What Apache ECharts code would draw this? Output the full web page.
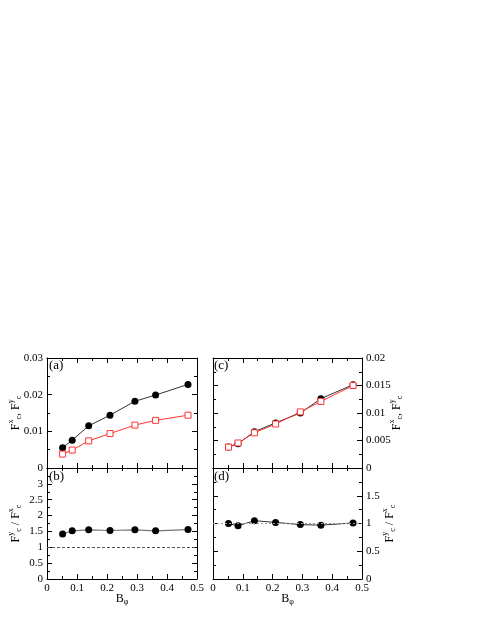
<!DOCTYPE html>
<html>
<head>
<meta charset="utf-8">
<script src="https://cdn.jsdelivr.net/npm/echarts@6/dist/echarts.min.js"></script>
<style>
html,body{margin:0;padding:0;background:#fff;}
#chart{width:485px;height:627px;}
</style>
</head>
<body>
<div id="chart"></div>
<script>
// Data
var B = [0.052, 0.084, 0.139, 0.21, 0.293, 0.362, 0.47];
var aFy = [0.0055, 0.0076, 0.0115, 0.0144, 0.0182, 0.0199, 0.0228];
var aFx = [0.0038, 0.0049, 0.0074, 0.0094, 0.0117, 0.0130, 0.0144];
var bRatio = [1.42, 1.52, 1.55, 1.53, 1.55, 1.52, 1.56];
var cFy = [0.0038, 0.0044, 0.0066, 0.0082, 0.0100, 0.0126, 0.01515];
var cFx = [0.0038, 0.00455, 0.0064, 0.0080, 0.0102, 0.0121, 0.0150];
var dRatio = [1.00, 0.96, 1.05, 1.02, 0.98, 0.97, 1.01];
var panelLabels = ['(a)', '(b)', '(c)', '(d)'];

var FONT = '"Liberation Serif", "Times New Roman", serif';
function pairs(xs, ys) { return xs.map(function (x, i) { return [x, ys[i]]; }); }

var richName = {
  n: { fontFamily: FONT, fontSize: 12, color: '#000' },
  sup: { fontFamily: FONT, fontSize: 8, color: '#000', padding: [0, 0, 9, 0] },
  sub: { fontFamily: FONT, fontSize: 8, color: '#000', padding: [7, 0, 0, 0] }
};

var grids = [
  { left: 47, top: 358, width: 150, height: 110 },
  { left: 47, top: 468, width: 150, height: 111 },
  { left: 213, top: 358, width: 149, height: 110 },
  { left: 213, top: 468, width: 149, height: 111 }
];

function xAx(grid, pos, showLabel, name) {
  return {
    type: 'value', gridIndex: grid, position: pos, min: 0, max: 0.5, interval: 0.1,
    axisLine: { show: true, onZero: false, lineStyle: { color: '#000', width: 1 } },
    axisTick: { show: true, inside: true, length: 5, lineStyle: { color: '#000' } },
    minorTick: { show: true, splitNumber: 2, length: 3, lineStyle: { color: '#000' } },
    splitLine: { show: false },
    axisLabel: { show: showLabel, fontFamily: FONT, fontSize: 11, color: '#000', margin: 4 },
    name: name || '', nameLocation: 'middle', nameGap: 12, nameMoveOverlap: false,
    nameTextStyle: { rich: richName }
  };
}
function yAx(grid, pos, showLabel, max, interval, name, gap, hideMax) {
  return {
    type: 'value', gridIndex: grid, position: pos, min: 0, max: max, interval: interval,
    axisLine: { show: true, onZero: false, lineStyle: { color: '#000', width: 1 } },
    axisTick: { show: true, inside: true, length: 5, lineStyle: { color: '#000' } },
    minorTick: { show: true, splitNumber: 2, length: 3, lineStyle: { color: '#000' } },
    splitLine: { show: false },
    axisLabel: { show: showLabel, fontFamily: FONT, fontSize: 11, color: '#000', margin: 4,
      showMaxLabel: !hideMax },
    name: name || '', nameLocation: 'middle', nameGap: gap || 15, nameRotate: 90,
    nameMoveOverlap: false,
    nameTextStyle: { rich: richName }
  };
}

var nameF = '{n|F}{sup|x}{sub|c}{n|, F}{sup|y}{sub|c}';
var nameR = '{n|F}{sup|y}{sub|c}{n| / F}{sup|x}{sub|c}';
var nameB = '{n|B}{sub|\u03c6}';

var xAxes = [
  xAx(0, 'bottom', false), xAx(0, 'top', false),
  xAx(1, 'bottom', true, nameB), xAx(1, 'top', false),
  xAx(2, 'bottom', false), xAx(2, 'top', false),
  xAx(3, 'bottom', true, nameB), xAx(3, 'top', false)
];
var yAxes = [
  yAx(0, 'left', true, 0.03, 0.01, nameF, 23, false), yAx(0, 'right', false, 0.03, 0.01),
  yAx(1, 'left', true, 3.5, 0.5, nameR, 23, true), yAx(1, 'right', false, 3.5, 0.5),
  yAx(2, 'right', true, 0.02, 0.005, nameF, 26, false), yAx(2, 'left', false, 0.02, 0.005),
  yAx(3, 'right', true, 2, 0.5, nameR, 19, true), yAx(3, 'left', false, 2, 0.5)
];

function circleSeries(xi, yi, ys) {
  return {
    type: 'line', xAxisIndex: xi, yAxisIndex: yi, data: pairs(B, ys),
    symbol: 'circle', symbolSize: 7, showSymbol: true,
    lineStyle: { color: '#333', width: 1 },
    itemStyle: { color: '#000' }, z: 3, animation: false
  };
}
function squareSeries(xi, yi, ys) {
  return {
    type: 'line', xAxisIndex: xi, yAxisIndex: yi, data: pairs(B, ys),
    symbol: 'rect', symbolSize: 6, showSymbol: true,
    lineStyle: { color: '#ff3333', width: 1 },
    itemStyle: { color: '#fff', borderColor: '#ff3333', borderWidth: 1 }, z: 4, animation: false
  };
}
function refLine(color, type) {
  return {
    silent: true, symbol: 'none', label: { show: false },
    lineStyle: { color: color, type: type, width: 1 },
    data: [{ yAxis: 1 }], animation: false
  };
}

var bSer = circleSeries(2, 2, bRatio);
bSer.lineStyle = { color: '#777', width: 1.2 };
bSer.markLine = refLine('#555', [3, 2]);
var dSer = circleSeries(6, 6, dRatio);
dSer.markLine = refLine('#999', [2, 2]);

var labelPos = [[49, 366], [49, 477], [214, 366], [214, 477]];
var graphics = panelLabels.map(function (t, i) {
  return {
    type: 'text', left: labelPos[i][0], top: labelPos[i][1] - 7,
    style: { text: t, fontFamily: FONT, fontSize: 13, fill: '#000' }
  };
});

var option = {
  backgroundColor: '#fff',
  animation: false,
  grid: grids,
  xAxis: xAxes,
  yAxis: yAxes,
  series: [
    circleSeries(0, 0, aFy),
    squareSeries(0, 0, aFx),
    bSer,
    circleSeries(4, 4, cFy),
    squareSeries(4, 4, cFx),
    dSer
  ],
  graphic: graphics
};

var chart = echarts.init(document.getElementById('chart'), null, { renderer: 'canvas' });
chart.setOption(option);
</script>
</body>
</html>
